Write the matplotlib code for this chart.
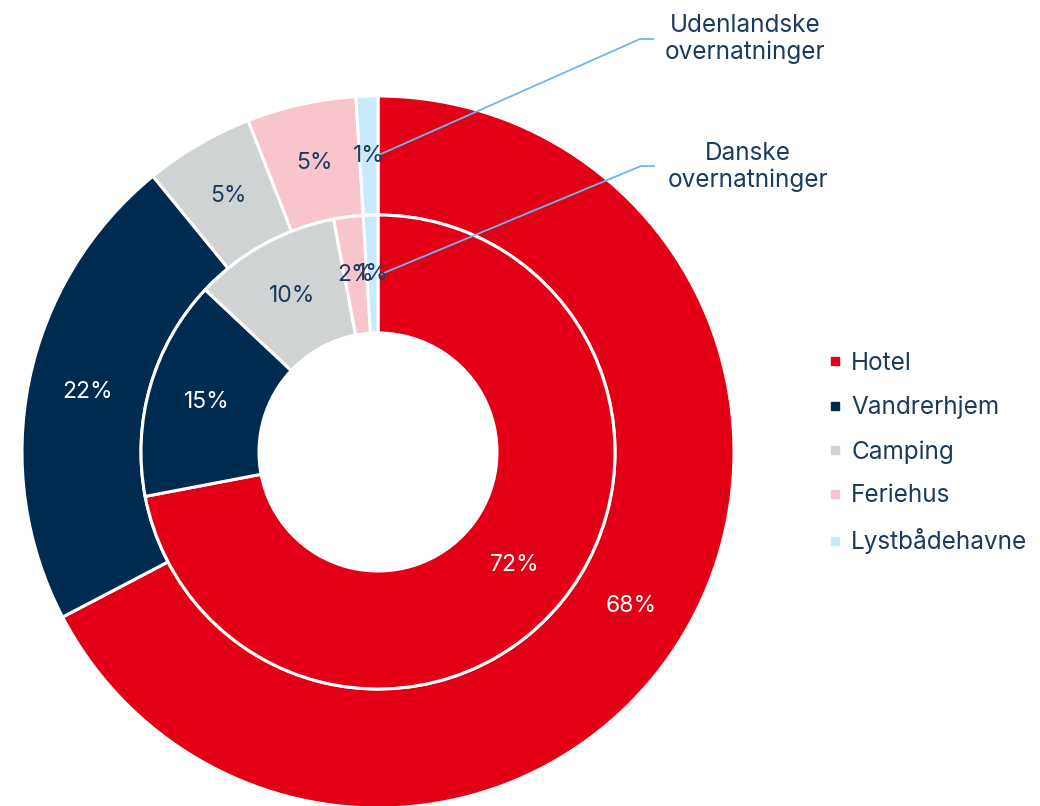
import matplotlib
matplotlib.use("Agg")
import matplotlib.pyplot as plt
from matplotlib.lines import Line2D

categories = ["Hotel", "Vandrerhjem", "Camping", "Feriehus", "Lystbådehavne"]
udenlandske = [68, 22, 5, 5, 1]
danske = [72, 15, 10, 2, 1]
series_names = ["Udenlandske\novernatninger", "Danske\novernatninger"]

colors = ["#E30016", "#002B50", "#D0D3D4", "#F8C5CD", "#C8EAFA"]
text_dark = "#1B3A5E"
label_colors_outer = ["white", "white", text_dark, text_dark, text_dark]
label_colors_inner = ["white", "white", text_dark, text_dark, text_dark]
line_color = "#6FB4F5"

plt.rcParams['font.family'] = ['Inter', 'DejaVu Sans']

W, H = 1040, 806
fig = plt.figure(figsize=(W / 100, H / 100), dpi=100)
ax = fig.add_axes([0, 0, 1, 1])

cx, cy = 378, H - 452
R_out = 356
R_mid = 237
R_in = 119

def fmt(v):
    return f"{v}%"

pct_size = 16.5

w_out, t_out = ax.pie(udenlandske, radius=R_out, center=(cx, cy), startangle=90,
                      counterclock=False, colors=colors,
                      wedgeprops=dict(width=R_out - R_mid, edgecolor="white", linewidth=2.2),
                      labels=[fmt(v) for v in udenlandske], labeldistance=(R_out + R_mid) / 2 / R_out,
                      textprops=dict(fontsize=pct_size, ha="center", va="center"),
                      frame=True)
w_in, t_in = ax.pie(danske, radius=R_mid, center=(cx, cy), startangle=90,
                    counterclock=False, colors=colors,
                    wedgeprops=dict(width=R_mid - R_in, edgecolor="white", linewidth=2.2),
                    labels=[fmt(v) for v in danske], labeldistance=(R_mid + R_in) / 2 / R_mid,
                    textprops=dict(fontsize=pct_size, ha="center", va="center"),
                    frame=True)
for t, c in zip(t_out, label_colors_outer):
    t.set_color(c)
for t, c in zip(t_in, label_colors_inner):
    t.set_color(c)

ax.set_xlim(0, W)
ax.set_ylim(0, H)
ax.set_aspect("equal")
ax.axis("off")

# callout lines and series labels
ax.plot([381, 640, 653], [H - 154, H - 39, H - 39], color=line_color, lw=1.3)
ax.plot([379, 641, 654], [H - 275, H - 166, H - 166], color=line_color, lw=1.3)
ax.text(745, H - 39, series_names[0], ha="center", va="center", fontsize=17.5,
        color=text_dark, linespacing=1.2)
ax.text(748, H - 167, series_names[1], ha="center", va="center", fontsize=17.5,
        color=text_dark, linespacing=1.2)

handles = [Line2D([], [], marker="s", linestyle="none", markersize=6,
                  markerfacecolor=c, markeredgecolor=c) for c in colors]
leg = ax.legend(handles, categories, loc="center left", bbox_to_anchor=(830 / W, 1 - 453 / H),
                frameon=False, handlelength=0.45, handletextpad=0.42,
                labelspacing=0.86, borderaxespad=0, borderpad=0,
                prop=dict(size=17.5))
for t in leg.get_texts():
    t.set_color(text_dark)

fig.savefig("out.png", dpi=100)
